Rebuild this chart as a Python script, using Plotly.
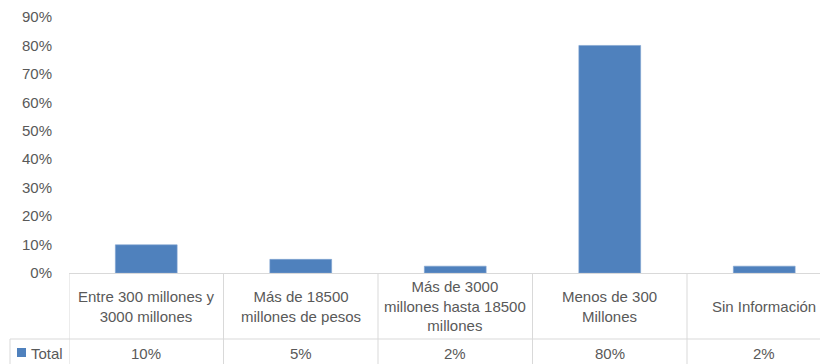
import plotly.graph_objects as go

categories = ["Entre 300 millones y<br>3000 millones",
              "Más de 18500<br>millones de pesos",
              "Más de 3000<br>millones hasta 18500<br>millones",
              "Menos de 300<br>Millones",
              "Sin Información"]
values = [0.099, 0.048, 0.024, 0.80, 0.024]
series_name = "Total"
y_ticks = [0, 0.1, 0.2, 0.3, 0.4, 0.5, 0.6, 0.7, 0.8, 0.9]

BAR = "#4F81BD"
TXT = "#595959"
GRID = "#D9D9D9"
FONT = "Liberation Sans"

OFF = 8  # page body margin
W, H = 828 - OFF, 364 - OFF
L, T, B = 69 - OFF, 17 - OFF, 91
plot_w = W - L
plot_h = H - T - B
cat_w = 154.5
x_max = -0.5 + plot_w / cat_w

def py(ypix):
    # ypix in reference page pixels
    return (H - B - (ypix - OFF)) / plot_h

def px(xpix):
    return (xpix - OFF - L) / plot_w

fig = go.Figure(go.Bar(x=list(range(len(values))), y=values, marker_color=BAR,
                       marker_line=dict(color="#7FA2D0", width=0.6),
                       width=0.4, name=series_name))

shapes = []
for i in range(len(values)):
    xv = i - 0.5
    shapes.append(dict(type="line", xref="x", yref="paper", x0=xv, x1=xv,
                       y0=0, y1=py(370), line=dict(color=GRID, width=1)))
shapes.append(dict(type="line", xref="paper", yref="paper",
                   x0=px(10), x1=1, y0=py(339), y1=py(339),
                   line=dict(color=GRID, width=1)))
shapes.append(dict(type="line", xref="paper", yref="paper",
                   x0=px(10), x1=px(10), y0=py(339), y1=py(370),
                   line=dict(color=GRID, width=1)))
shapes.append(dict(type="rect", xref="paper", yref="paper",
                   x0=px(17), x1=px(26), y0=py(357), y1=py(348),
                   fillcolor=BAR, line=dict(width=0)))

annotations = []
for i, c in enumerate(categories):
    annotations.append(dict(x=i, y=py(306), xref="x", yref="paper", text=c,
                            showarrow=False, xanchor="center", yanchor="middle",
                            font=dict(family=FONT, size=15, color=TXT)))
    annotations.append(dict(x=i, y=py(353), xref="x", yref="paper",
                            text=f"{round(values[i]*100):.0f}%",
                            showarrow=False, xanchor="center", yanchor="middle",
                            font=dict(family=FONT, size=15, color=TXT)))
annotations.append(dict(x=px(29), y=py(353), xref="paper", yref="paper",
                        text=series_name, showarrow=False, xanchor="left", yanchor="middle",
                        font=dict(family=FONT, size=15, color=TXT)))

fig.update_layout(
    width=W, height=H,
    margin=dict(l=L, r=0, t=T, b=B),
    paper_bgcolor="white", plot_bgcolor="white",
    showlegend=False,
    shapes=shapes,
    annotations=annotations,
    xaxis=dict(range=[-0.5, x_max], showticklabels=False, showgrid=False,
               zeroline=False, showline=True, linecolor=GRID, linewidth=1, ticks=""),
    yaxis=dict(range=[0, 0.9], tickvals=y_ticks, tickformat=".0%", showgrid=False,
               zeroline=False, showline=False, ticks="", ticklabelstandoff=16,
               tickfont=dict(family=FONT, size=15, color=TXT)),
)

fig.write_html("out.html")
